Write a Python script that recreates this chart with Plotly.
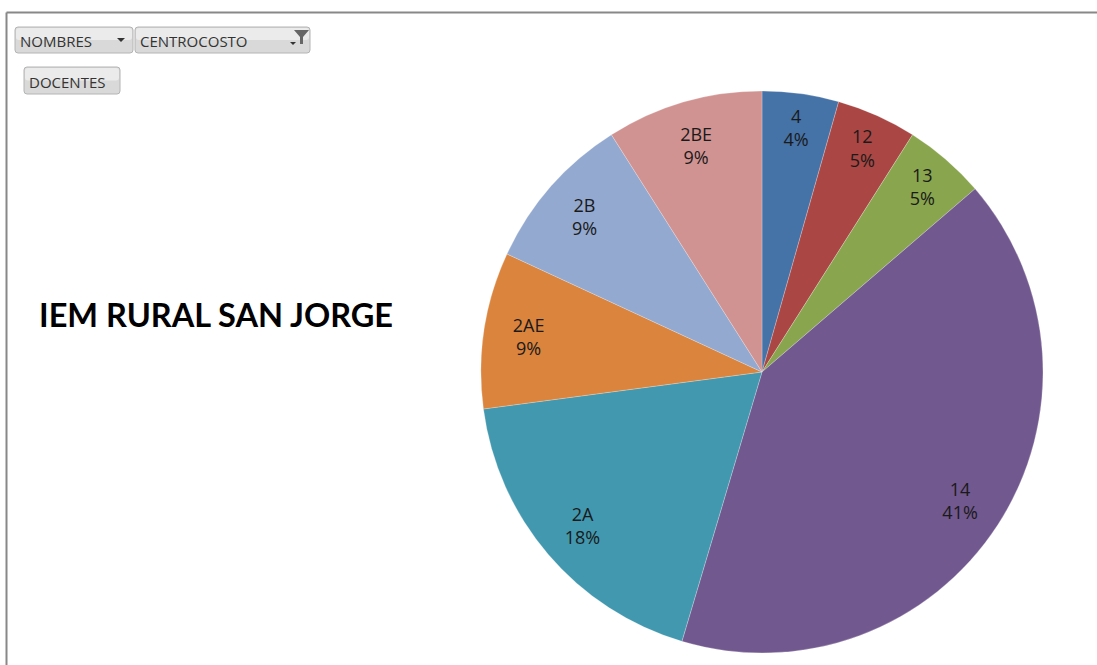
import plotly.graph_objects as go

W, H = 1097, 665

labels = ["4", "12", "13", "14", "2A", "2AE", "2B", "2BE"]
values = [4.4, 4.6, 4.7, 40.9, 18.3, 9.0, 9.1, 9.0]
colors = ["#4572A7", "#AA4643", "#89A54E", "#71588F", "#4198AF", "#DB843D", "#93A9CF", "#D19392"]

title_text = "IEM RURAL SAN JORGE"
buttons = [("NOMBRES", 15, 27, 133, 53), ("CENTROCOSTO", 135, 27, 310, 53), ("DOCENTES", 24, 67, 120, 94)]


def px(x):
    return x / W


def py(y):
    return 1 - y / H


dom = dict(x=[px(481), px(1043)], y=[py(653), py(91)])

fig = go.Figure()
# colored slices
fig.add_trace(go.Pie(
    labels=labels, values=values, sort=False, direction="clockwise", rotation=0,
    marker=dict(colors=colors, line=dict(color="rgba(255,255,255,0.4)", width=0.6)),
    textinfo="none", domain=dom, showlegend=False, hoverinfo="label+percent",
))
# transparent ring carrying the labels near the outer edge
fig.add_trace(go.Pie(
    labels=labels, values=values, sort=False, direction="clockwise", rotation=0, hole=0.68,
    marker=dict(colors=["rgba(0,0,0,0)"] * len(labels), line=dict(width=0)),
    textposition="inside", insidetextorientation="horizontal",
    texttemplate="%{label}<br>%{percent:.0%}",
    textfont=dict(family="Open Sans, sans-serif", size=18, color="#1a1a1a"),
    domain=dom, showlegend=False, hoverinfo="skip",
))

shapes = [
    dict(type="line", xref="paper", yref="paper", x0=px(6.5), x1=px(1097), y0=py(12.5), y1=py(12.5),
         line=dict(color="#888888", width=2)),
    dict(type="line", xref="paper", yref="paper", x0=px(6.5), x1=px(6.5), y0=py(12.5), y1=py(665),
         line=dict(color="#888888", width=2)),
]


def rrect(x0, y0, x1, y1, r=3):
    return (f"M{px(x0 + r)},{py(y0)} L{px(x1 - r)},{py(y0)} Q{px(x1)},{py(y0)} {px(x1)},{py(y0 + r)} "
            f"L{px(x1)},{py(y1 - r)} Q{px(x1)},{py(y1)} {px(x1 - r)},{py(y1)} L{px(x0 + r)},{py(y1)} "
            f"Q{px(x0)},{py(y1)} {px(x0)},{py(y1 - r)} L{px(x0)},{py(y0 + r)} Q{px(x0)},{py(y0)} {px(x0 + r)},{py(y0)} Z")


annotations = []
for name, x0, y0, x1, y1 in buttons:
    shapes.append(dict(type="path", xref="paper", yref="paper", path=rrect(x0, y0, x1, y1),
                       fillcolor="#d9d9d9", line=dict(color="#b4b4b4", width=1)))
    shapes.append(dict(type="path", xref="paper", yref="paper", path=rrect(x0 + 1, y0 + 1, x1 - 1, (y0 + y1) / 2),
                       fillcolor="#ebebeb", line=dict(width=0)))
    annotations.append(dict(text=name, x=px(x0 + 3), y=py((y0 + y1) / 2 + 1), xref="paper", yref="paper",
                            xanchor="left", yanchor="middle", showarrow=False,
                            font=dict(family="Open Sans, sans-serif", size=15, color="#333333")))

# dropdown arrow on NOMBRES
shapes.append(dict(type="path", xref="paper", yref="paper",
                   path=f"M{px(117)},{py(38)} L{px(125)},{py(38)} L{px(121)},{py(42)} Z",
                   fillcolor="#333333", line=dict(width=0)))
# filter funnel on CENTROCOSTO
shapes.append(dict(type="path", xref="paper", yref="paper",
                   path=f"M{px(294)},{py(30)} L{px(309)},{py(30)} L{px(303)},{py(37)} L{px(303)},{py(44)} L{px(300)},{py(44)} L{px(300)},{py(37)} Z",
                   fillcolor="#666666", line=dict(width=0)))
shapes.append(dict(type="path", xref="paper", yref="paper",
                   path=f"M{px(290)},{py(42)} L{px(296)},{py(42)} L{px(293)},{py(45)} Z",
                   fillcolor="#333333", line=dict(width=0)))

annotations.append(dict(text=f"<b>{title_text}</b>", x=px(37), y=py(314), xref="paper", yref="paper",
                        xanchor="left", yanchor="middle", showarrow=False,
                        font=dict(family="Lato, sans-serif", size=32.5, color="#000000")))

fig.update_layout(width=W, height=H, margin=dict(l=0, r=0, t=0, b=0),
                  paper_bgcolor="white", plot_bgcolor="white",
                  shapes=shapes, annotations=annotations)

fig.write_html("out.html", config={"displayModeBar": False},
               post_script="document.body.style.margin='0';document.body.style.overflow='hidden';")
